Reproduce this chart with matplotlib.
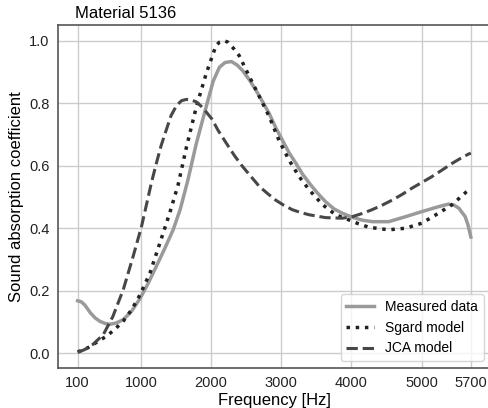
import matplotlib
matplotlib.use("Agg")
import matplotlib.pyplot as plt

plt.rcParams["font.family"] = ["Liberation Sans", "DejaVu Sans"]

meas_f = [100, 150, 200, 280, 350, 420, 500, 560, 650, 750, 870, 990, 1100, 1220, 1340,
          1460, 1560, 1670, 1790, 1930, 2030, 2120, 2200, 2290, 2370, 2450, 2550, 2640,
          2740, 2830, 2920, 3020, 3110, 3210, 3300, 3400, 3510, 3630, 3750, 3870, 4000,
          4150, 4300, 4530, 4770, 5000, 5240, 5380, 5460, 5530, 5620, 5660, 5700]
meas_a = [0.168, 0.165, 0.155, 0.130, 0.113, 0.102, 0.095, 0.093, 0.097, 0.108, 0.135,
          0.176, 0.222, 0.278, 0.335, 0.395, 0.460, 0.554, 0.671, 0.788, 0.870, 0.915,
          0.930, 0.933, 0.922, 0.904, 0.873, 0.841, 0.802, 0.766, 0.722, 0.680, 0.642,
          0.607, 0.574, 0.544, 0.514, 0.485, 0.462, 0.448, 0.436, 0.426, 0.421, 0.421,
          0.437, 0.453, 0.469, 0.477, 0.474, 0.464, 0.437, 0.410, 0.372]

sgard_f = [100, 200, 300, 400, 513, 630, 750, 870, 990, 1130, 1270, 1410, 1530, 1650,
           1790, 1930, 2070, 2120, 2180, 2240, 2320, 2400, 2550, 2690, 2830, 2970, 3110,
           3255, 3400, 3590, 3775, 3960, 4080, 4250, 4530, 4770, 5000, 5240, 5430, 5640, 5700]
sgard_a = [0.005, 0.012, 0.025, 0.040, 0.055, 0.077, 0.103, 0.140, 0.188, 0.257, 0.352,
           0.448, 0.538, 0.660, 0.788, 0.894, 0.984, 0.995, 1.000, 0.995, 0.975, 0.952,
           0.883, 0.820, 0.756, 0.680, 0.618, 0.565, 0.522, 0.475, 0.443, 0.427, 0.416,
           0.403, 0.395, 0.400, 0.416, 0.448, 0.475, 0.517, 0.527]

jca_f = [100, 200, 320, 465, 600, 750, 890, 1010, 1150, 1220, 1290, 1360, 1430, 1510,
         1580, 1650, 1720, 1790, 1860, 1930, 2010, 2100, 2220, 2340, 2450, 2570, 2690,
         2810, 2920, 3040, 3160, 3280, 3400, 3630, 3870, 4010, 4150, 4290, 4430, 4580,
         4720, 4860, 5000, 5145, 5290, 5430, 5550, 5665, 5700]
jca_a = [0.003, 0.012, 0.029, 0.060, 0.117, 0.204, 0.310, 0.406, 0.545, 0.607, 0.665,
         0.713, 0.760, 0.793, 0.808, 0.812, 0.810, 0.804, 0.790, 0.772, 0.750, 0.713,
         0.671, 0.630, 0.597, 0.565, 0.533, 0.510, 0.490, 0.473, 0.459, 0.450, 0.443,
         0.434, 0.432, 0.437, 0.447, 0.459, 0.473, 0.490, 0.508, 0.528, 0.546, 0.565,
         0.586, 0.607, 0.623, 0.637, 0.640]

xticks = [100, 1000, 2000, 3000, 4000, 5000, 5700]
yticks = [0.0, 0.2, 0.4, 0.6, 0.8, 1.0]

fig = plt.figure(figsize=(4.89, 4.08), dpi=100)
ax = fig.add_axes([58 / 489, 40 / 408, 432.5 / 489, 343 / 408])

ax.plot(meas_f, meas_a, color="#9a9a9a", lw=2.5, label="Measured data", zorder=3)
ax.plot(sgard_f, sgard_a, color="#222222", lw=2.5, linestyle=":", label="Sgard model", zorder=3)
ax.plot(jca_f, jca_a, color="#474747", lw=2.2, linestyle="--", label="JCA model", zorder=3)

ax.set_xticks(xticks)
ax.set_xticklabels([str(t) for t in xticks])
ax.set_yticks(yticks)
ax.set_yticklabels([f"{t:.1f}" for t in yticks])
ax.tick_params(length=0, labelsize=10.5, pad=6, colors="#222222")
ax.grid(True, color="#cccccc", linewidth=1)
ax.set_axisbelow(True)
for s in ax.spines.values():
    s.set_color("#555555")
    s.set_linewidth(1.2)

ax.set_xlabel("Frequency [Hz]", fontsize=12, labelpad=2)
ax.set_ylabel("Sound absorption coefficient", fontsize=12)
ax.text(0.04, 1.012, "Material 5136", transform=ax.transAxes, fontsize=12,
        ha="left", va="bottom")

leg = ax.legend(loc="lower right", fontsize=10, frameon=True, fancybox=True)
leg.get_frame().set_edgecolor("#cccccc")

fig.savefig("out.png", dpi=100)
